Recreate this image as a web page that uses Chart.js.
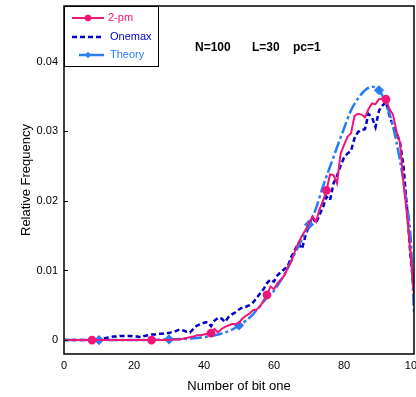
<!DOCTYPE html>
<html>
<head>
<meta charset="utf-8">
<script src="https://cdn.jsdelivr.net/npm/chart.js@4.4.1/dist/chart.umd.min.js"></script>
<style>
  html, body { margin: 0; padding: 0; background: #fff; overflow: hidden; }
  canvas { display: block; }
</style>
</head>
<body>
<canvas id="freqChart" width="416" height="397"></canvas>
<script>
// Number of bit one (x positions for the measured series)
const bitOnes = Array.from({ length: 101 }, (_, i) => i);

// 2-pm measured frequencies, one value per bit count 0..100
const pm2 = [
  0, 0, 0, 0, 0, 0, 0, 0, 0, 0,
  0, 0, 0, 0, 0, 0, 0, 0, 0, 0,
  0, 0, 0, 0, 0, 0, 0, 0, 0, 0,
  0, 0.0001, 0.0001, 0.0001, 0.0002, 0.0003, 0.0004, 0.0005, 0.0007, 0.0007,
  0.0008, 0.0009, 0.0010, 0.0016, 0.0011, 0.0016, 0.0019, 0.0021, 0.0023, 0.0023,
  0.0025, 0.0031, 0.0035, 0.0038, 0.0043, 0.0044, 0.0048, 0.0057, 0.0065, 0.0077,
  0.0073, 0.0082, 0.0087, 0.0093, 0.0105, 0.0114, 0.0128, 0.0140, 0.0150, 0.0158,
  0.0168, 0.0178, 0.0170, 0.0188, 0.0200, 0.0215, 0.0238, 0.0237, 0.0225, 0.0267,
  0.0280, 0.0292, 0.0297, 0.0322, 0.0325, 0.0324, 0.0320, 0.0332, 0.0340, 0.0339,
  0.0346, 0.0347, 0.0346, 0.0332, 0.0324, 0.0300, 0.0284, 0.0225, 0.0180, 0.0125,
  0.0065
];

// Onemax measured frequencies
const onemax = [
  0, 0, 0, 0, 0, 0, 0, 0, 0, 0.0001,
  0.0001, 0.0002, 0.0003, 0.0004, 0.0005, 0.0005, 0.0006, 0.0006, 0.0006, 0.0006,
  0.0005, 0.0005, 0.0004, 0.0006, 0.0007, 0.0008, 0.0008, 0.0009, 0.0009, 0.0010,
  0.0010, 0.0012, 0.0013, 0.0015, 0.0014, 0.0012, 0.0011, 0.0016, 0.0021, 0.0023,
  0.0025, 0.0026, 0.0020, 0.0028, 0.0032, 0.0031, 0.0026, 0.0033, 0.0037, 0.0040,
  0.0044, 0.0047, 0.0048, 0.0050, 0.0054, 0.0060, 0.0067, 0.0073, 0.0082, 0.0087,
  0.0084, 0.0093, 0.0098, 0.0102, 0.0107, 0.0120, 0.0130, 0.0139, 0.0131, 0.0150,
  0.0165, 0.0176, 0.0168, 0.0180, 0.0191, 0.0206, 0.0201, 0.0225, 0.0236, 0.0250,
  0.0262, 0.0268, 0.0272, 0.0290, 0.0299, 0.0302, 0.0303, 0.0325, 0.0320, 0.0306,
  0.0330, 0.0337, 0.0342, 0.0322, 0.0308, 0.0298, 0.0284, 0.0250, 0.0190, 0.0120,
  0.0070
];

// Theory curve (smooth)
const theoryX = [0, 10, 20, 30, 35, 40, 42, 44, 46, 48, 50, 52, 54, 56, 58, 60, 62, 64, 66, 68,
  70, 72, 74, 76, 78, 80, 82, 84, 86, 88, 90, 92, 94, 96, 98, 99, 100];
const theoryY = [0, 0, 0, 0.0001, 0.0002, 0.0004, 0.0006, 0.0008, 0.0011, 0.0015,
  0.0021, 0.0028, 0.0037, 0.0049, 0.0061, 0.0071, 0.0086, 0.0104, 0.0125, 0.0145,
  0.0166, 0.0189, 0.0221, 0.0249, 0.0277, 0.0304, 0.0330, 0.0347, 0.0359, 0.0364,
  0.0359, 0.0340, 0.0307, 0.0258, 0.0193, 0.0150, 0.0040];

// where the markers sit
const pm2Marks = [8, 25, 42, 58, 75, 92];
const theoryMarks = [10, 30, 50, 70, 90];

const xTicks = [0, 20, 40, 60, 80, 100];
const yTicks = [0, 0.01, 0.02, 0.03, 0.04];

const PINK = "rgb(238, 22, 122)";
const NAVY = "#0000c8";
const SKY = "rgb(42, 124, 242)";
const FONT = "'Liberation Sans', Arial, sans-serif";

const series = [
  { label: "2-pm", color: PINK, dash: [], width: 2, marker: "circle" },
  { label: "Onemax", color: NAVY, dash: [5, 3], width: 2.5, marker: null },
  { label: "Theory", color: SKY, dash: [12, 3, 3, 3], width: 2.5, marker: "rectRot" },
];

// frame, inner ticks, legend box, note and axis titles
const decorations = {
  id: "decorations",
  afterDatasetsDraw(chart) {
    const { ctx, chartArea: a, scales } = chart;
    ctx.save();
    ctx.strokeStyle = "#000";
    ctx.lineWidth = 1.5;
    ctx.strokeRect(a.left, a.top, a.right - a.left, a.bottom - a.top);
    ctx.lineWidth = 1;
    yTicks.forEach(v => {
      const y = Math.round(scales.y.getPixelForValue(v)) + 0.5;
      ctx.beginPath();
      ctx.moveTo(a.left, y);
      ctx.lineTo(a.left + 4, y);
      ctx.stroke();
    });
    ctx.restore();
  },
  afterDraw(chart) {
    const { ctx, chartArea: a } = chart;
    ctx.save();

    // legend
    const bx = a.left, by = a.top, bw = 94, bh = 60;
    ctx.fillStyle = "#fff";
    ctx.fillRect(bx, by, bw, bh);
    ctx.strokeStyle = "#000";
    ctx.lineWidth = 1;
    ctx.strokeRect(bx + 0.5, by + 0.5, bw, bh);
    ctx.font = "11px " + FONT;
    ctx.textBaseline = "middle";
    const rows = [18, 37, 55];
    series.forEach((s, i) => {
      const y = rows[i];
      const x0 = i === 2 ? 79 : 72;
      ctx.strokeStyle = s.color;
      ctx.lineWidth = s.width;
      ctx.setLineDash(i === 2 ? [] : s.dash);
      ctx.beginPath();
      ctx.moveTo(x0, y);
      ctx.lineTo(104, y);
      ctx.stroke();
      ctx.setLineDash([]);
      ctx.fillStyle = s.color;
      if (s.marker === "circle") {
        ctx.beginPath();
        ctx.arc(88, y, 3.3, 0, Math.PI * 2);
        ctx.fill();
      } else if (s.marker === "rectRot") {
        ctx.beginPath();
        ctx.moveTo(88, y - 3.2);
        ctx.lineTo(91.2, y);
        ctx.lineTo(88, y + 3.2);
        ctx.lineTo(84.8, y);
        ctx.closePath();
        ctx.fill();
      }
      ctx.fillText(s.label, i === 0 ? 108 : 110, y);
    });

    // run parameters
    ctx.fillStyle = "#000";
    ctx.font = "bold 12px " + FONT;
    ctx.fillText("N=100", 195, 48);
    ctx.fillText("L=30", 252, 48);
    ctx.fillText("pc=1", 293, 48);

    // axis titles
    ctx.font = "13px " + FONT;
    ctx.textAlign = "center";
    ctx.fillText("Number of bit one", (a.left + a.right) / 2, 386);
    ctx.translate(26, (a.top + a.bottom) / 2);
    ctx.rotate(-Math.PI / 2);
    ctx.fillText("Relative Frequency", 0, 0);
    ctx.restore();
  }
};

const ctx = document.getElementById("freqChart").getContext("2d");

new Chart(ctx, {
  type: "line",
  data: {
    datasets: [
      {
        label: "2-pm",
        data: bitOnes.map((x, i) => ({ x, y: pm2[i] })),
        borderColor: PINK,
        backgroundColor: PINK,
        borderWidth: 2,
        pointRadius: c => (pm2Marks.includes(c.raw.x) ? 3.4 : 0),
        pointStyle: "circle",
        tension: 0,
        order: 1,
      },
      {
        label: "Onemax",
        data: bitOnes.map((x, i) => ({ x, y: onemax[i] })),
        borderColor: NAVY,
        backgroundColor: NAVY,
        borderWidth: 2.5,
        borderDash: [5, 3],
        pointRadius: 0,
        tension: 0,
        order: 3,
      },
      {
        label: "Theory",
        data: theoryX.map((x, i) => ({ x, y: theoryY[i] })),
        borderColor: SKY,
        backgroundColor: SKY,
        borderWidth: 2.5,
        borderDash: [12, 3, 3, 3],
        pointRadius: c => (theoryMarks.includes(c.raw.x) ? 3.3 : 0),
        pointStyle: "rectRot",
        cubicInterpolationMode: "monotone",
        order: 2,
      },
    ],
  },
  options: {
    responsive: false,
    animation: false,
    layout: { padding: { top: 6, right: 2, left: 0, bottom: 0 } },
    plugins: {
      legend: { display: false },
      tooltip: { enabled: false },
    },
    scales: {
      x: {
        type: "linear",
        min: 0,
        max: 100,
        grid: { display: false, drawTicks: false },
        border: { display: false },
        afterBuildTicks: s => { s.ticks = xTicks.map(v => ({ value: v })); },
        afterFit: s => { s.height = 43; s.paddingLeft = 0; s.paddingRight = 0; },
        ticks: {
          padding: 5,
          maxRotation: 0,
          color: "#000",
          font: { family: FONT, size: 11 },
        },
      },
      y: {
        type: "linear",
        min: -0.002,
        max: 0.048,
        grid: { display: false, drawTicks: false },
        border: { display: false },
        afterBuildTicks: s => { s.ticks = yTicks.map(v => ({ value: v })); },
        afterFit: s => { s.width = 64; s.paddingTop = 0; s.paddingBottom = 0; },
        ticks: {
          padding: 6,
          color: "#000",
          font: { family: FONT, size: 11 },
          callback: v => (v === 0 ? "0" : v.toFixed(2)),
        },
      },
    },
  },
  plugins: [decorations],
});
</script>
</body>
</html>
